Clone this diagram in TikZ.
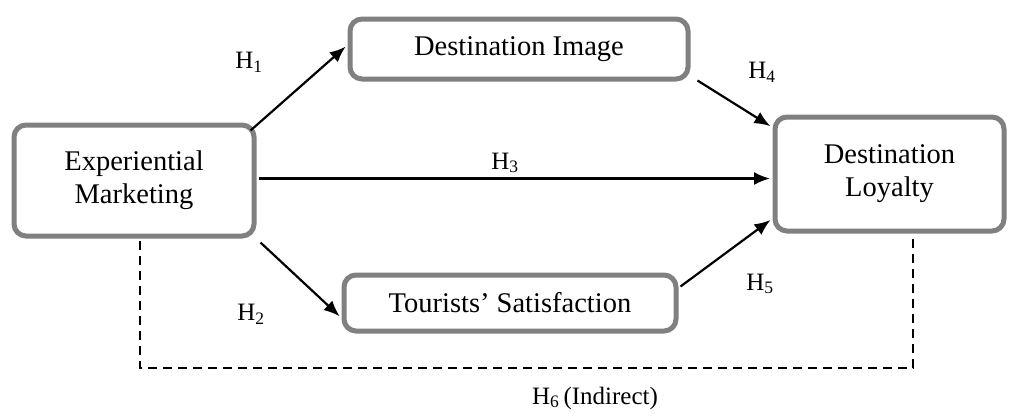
\documentclass[tikz,border=0pt]{standalone}
\usepackage{fontspec}
\setmainfont{Liberation Serif}
\usetikzlibrary{arrows.meta,calc}
\definecolor{boxgray}{RGB}{128,128,128}
\begin{document}
\begin{tikzpicture}[x=1pt,y=-1pt,
  box/.style={draw=boxgray, line width=5pt, rounded corners=12pt, fill=white, inner sep=0pt, align=center, font=\fontsize{28.5}{33}\selectfont},
  link/.style={line width=2.2pt, shorten >=2.5pt, -{Latex[length=16pt,width=13pt]}},
  hlab/.style={font=\fontsize{25}{30}\selectfont, inner sep=0pt},
  ind/.style={line width=1.8pt, dash pattern=on 9pt off 6pt}]
\useasboundingbox[fill=white] (0,0) rectangle (1009,418);
\node[box, minimum width=240pt, minimum height=111pt] (EM) at (134,180.5) {Experiential\\Marketing};
\node[box, minimum width=338pt, minimum height=60pt] (DI) at (519,49) {Destination Image};
\node[box, minimum width=332pt, minimum height=56pt] (TS) at (510,303) {Tourists’ Satisfaction};
\node[box, minimum width=229pt, minimum height=114pt] (DL) at (889.5,174) {Destination\\Loyalty};
\draw[link] ($(EM.north east)+(-6,8)$) -- ($(DI.west)+(0,-4)$);
\draw[link] ($(DI.south east)+(7,-1)$) -- ($(DL.north west)+(0,13)$);
\draw[link] ($(EM.east)+(2.5,-2)$) -- ($(DL.west |- EM.east)+(0,-2)$);
\draw[link] ($(EM.south east)+(4,4)$) -- ($(TS.west)+(0,15)$);
\draw[link] ($(TS.north east)+(2,14)$) -- ($(DL.south west)+(0,-15)$);
\draw[ind] ($(EM.south)+(6,2.5)$) -- ++(0,127) -| ($(DL.south)+(23.5,2.5)$);
\node[hlab] (h1) at (249,62) {H\textsubscript{1}};
\node[hlab] (h3) at (505,163) {H\textsubscript{3}};
\node[hlab] (h4) at (762,72) {H\textsubscript{4}};
\node[hlab] (h2) at (251,314) {H\textsubscript{2}};
\node[hlab] (h5) at (760,284) {H\textsubscript{5}};
\node[hlab] (h6) at (595,398) {H\textsubscript{6}\,(Indirect)};
\end{tikzpicture}
\end{document}
